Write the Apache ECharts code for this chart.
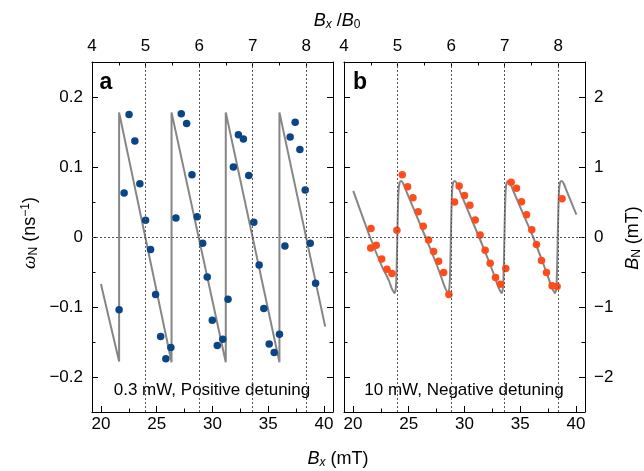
<!DOCTYPE html>
<html><head><meta charset="utf-8">
<script src="https://cdn.jsdelivr.net/npm/echarts@6/dist/echarts.min.js"></script>
<style>html,body{margin:0;padding:0;background:#fff}#c{width:644px;height:471px}</style>
</head><body><div id="c"></div>
<script>
// ---- axis ranges and tick labels ----
const bxRange = [19.2, 40.8];          // B_x (mT)
const ratioRange = [4, 8.5];           // B_x / B_0
const omegaRange = [-0.25, 0.25];      // omega_N (ns^-1)
const bnRange = [-2.5, 2.5];           // B_N (mT)
const bxTicks = [20, 25, 30, 35, 40];
const bxMinorTicks = [22.5, 27.5, 32.5, 37.5];
const ratioTicks = [4, 5, 6, 7, 8];
const ratioMinorTicks = [4.5, 5.5, 6.5, 7.5];
const omegaTicks = [-0.2, -0.1, 0, 0.1, 0.2];
const omegaMinorTicks = [-0.15, -0.05, 0.05, 0.15];
const bnTicks = [-2, -1, 0, 1, 2];
const bnMinorTicks = [-1.5, -0.5, 0.5, 1.5];
const ratioGuides = [5, 6, 7, 8];

// ---- panel a: 0.3 mW, positive detuning ----
const aBx = [21.63,22.08,22.52,23.04,23.49,24.0,24.45,24.9,25.35,25.82,26.27,26.72,27.2,27.68,28.16,28.63,29.12,29.53,29.98,30.43,30.92,31.39,31.87,32.32,32.77,33.25,33.7,34.18,34.6,35.08,35.53,36.0,36.49,36.96,37.41,37.83,38.31,38.76,39.24];
const aOmega = [-0.104,0.063,0.175,0.137,0.076,0.024,-0.018,-0.082,-0.142,-0.174,-0.158,0.027,0.176,0.162,0.089,0.029,-0.009,-0.057,-0.119,-0.155,-0.146,-0.089,0.100,0.146,0.140,0.088,0.021,-0.040,-0.102,-0.153,-0.165,-0.139,-0.013,0.143,0.164,0.125,0.067,-0.009,-0.066];
const aFitBx = [20.0,21.63,21.63,26.33,26.33,31.19,31.19,36.0,36.0,40.1];
const aFitOmega = [-0.067,-0.178,0.178,-0.179,0.178,-0.179,0.178,-0.179,0.178,-0.128];

// ---- panel b: 10 mW, negative detuning ----
const bBx = [21.62,21.59,22.09,22.58,23.05,23.5,23.94,24.42,24.9,25.38,25.85,26.3,26.78,27.23,27.68,28.13,28.6,29.11,29.52,30.0,30.48,30.96,31.4,31.85,32.3,32.78,33.23,33.7,34.18,34.66,35.11,35.56,36.03,36.45,36.9,37.35,37.85,38.3,38.74];
const bBn = [0.12,-0.157,-0.118,-0.313,-0.46,-0.52,0.095,0.889,0.718,0.561,0.362,0.152,-0.043,-0.208,-0.346,-0.507,-0.82,0.499,0.727,0.594,0.452,0.242,0.028,-0.19,-0.375,-0.58,-0.674,-0.45,0.783,0.698,0.504,0.319,0.105,-0.108,-0.336,-0.507,-0.698,-0.707,0.547];
const bFitBx = [20.03,21.53,22.6,23.22,23.47,23.72,23.82,23.89,23.94,23.99,24.04,24.1,24.19,24.32,24.52,24.82,
  26.5,27.52,28.02,28.27,28.52,28.62,28.69,28.74,28.79,28.84,28.9,28.99,29.12,29.32,29.62,
  31.3,32.32,32.82,33.07,33.32,33.42,33.49,33.54,33.59,33.64,33.7,33.79,33.92,34.12,34.42,
  36.15,37.1,37.6,37.85,38.1,38.2,38.27,38.32,38.37,38.42,38.48,38.57,38.7,38.9,39.2,40.03];
const bFitBn = [0.66,0.0,-0.42,-0.62,-0.73,-0.80,-0.76,-0.6,-0.3,0.1,0.45,0.68,0.78,0.80,0.76,0.64,
  0.0,-0.40,-0.62,-0.73,-0.80,-0.76,-0.6,-0.3,0.1,0.45,0.68,0.78,0.80,0.76,0.64,
  0.0,-0.40,-0.62,-0.73,-0.80,-0.76,-0.6,-0.3,0.1,0.45,0.68,0.78,0.80,0.76,0.64,
  0.0,-0.40,-0.62,-0.73,-0.80,-0.76,-0.6,-0.3,0.1,0.45,0.68,0.78,0.80,0.76,0.64,0.32];

const FONT = 'Liberation Sans, Arial, Helvetica, sans-serif';
const zip = (xs, ys) => xs.map((x, i) => [x, ys[i]]);
const fmt = v => String(v).replace('-', '\u2212');

function axisPair(gridIndex, position, range, major, minor, showLabels, margin) {
  const base = {
    type: 'value', gridIndex, position, min: range[0], max: range[1],
    splitLine: { show: false }, minorTick: { show: false }, minorSplitLine: { show: false }
  };
  return [
    Object.assign({}, base, {
      axisLine: { show: true, onZero: false, lineStyle: { color: '#000', width: 1 } },
      axisTick: { show: true, inside: true, length: 6, customValues: major, lineStyle: { color: '#000', width: 1 } },
      axisLabel: { show: showLabels, customValues: major, formatter: fmt, margin: margin,
        color: '#000', fontSize: 17, fontFamily: FONT }
    }),
    Object.assign({}, base, {
      axisLine: { show: false, onZero: false },
      axisTick: { show: true, inside: true, length: 3.5, customValues: minor, lineStyle: { color: '#000', width: 1 } },
      axisLabel: { show: false }
    })
  ];
}

const xAxes = [].concat(
  axisPair(0, 'bottom', bxRange, bxTicks, bxMinorTicks, true, 4),      // 0,1
  axisPair(0, 'top', ratioRange, ratioTicks, ratioMinorTicks, true, 7), // 2,3
  axisPair(1, 'bottom', bxRange, bxTicks, bxMinorTicks, true, 4),      // 4,5
  axisPair(1, 'top', ratioRange, ratioTicks, ratioMinorTicks, true, 7)  // 6,7
);
const yAxes = [].concat(
  axisPair(0, 'left', omegaRange, omegaTicks, omegaMinorTicks, true, 9),  // 0,1
  axisPair(0, 'right', omegaRange, omegaTicks, omegaMinorTicks, false, 9),// 2,3
  axisPair(1, 'left', omegaRange, omegaTicks, omegaMinorTicks, false, 9), // 4,5
  axisPair(1, 'right', bnRange, bnTicks, bnMinorTicks, true, 9)           // 6,7
);

const guideStyle = { type: [2, 2], color: '#555', width: 1 };
function guides(xIdx, yIdx) {
  return {
    type: 'line', xAxisIndex: xIdx, yAxisIndex: yIdx, data: [], z: 1, silent: true,
    markLine: { silent: true, symbol: ['none', 'none'], animation: false, label: { show: false },
      lineStyle: guideStyle,
      data: ratioGuides.map(v => ({ xAxis: v })).concat([{ yAxis: 0 }]) }
  };
}

const sub = { fontSize: 12, fontFamily: FONT, padding: [8, 0, 0, 0] };
const subI = { fontSize: 12, fontFamily: FONT, fontStyle: 'italic', padding: [8, 0, 0, 0] };
const sup = { fontSize: 12, fontFamily: FONT, padding: [0, 0, 8, 0] };
const ital = { fontSize: 18, fontFamily: FONT, fontStyle: 'italic' };
const rich = { i: ital, s: sub, si: subI, p: sup,
  w: { fontSize: 19, fontFamily: 'Liberation Serif, serif', fontStyle: 'italic' } };

function label(text, x, y, rot) {
  return { type: 'text', x, y, rotation: rot || 0, silent: true,
    style: { text, rich, font: '18px ' + FONT, fill: '#000', align: 'center', verticalAlign: 'middle' } };
}
function plain(text, x, y, font) {
  return { type: 'text', x, y, silent: true,
    style: { text, font, fill: '#000', align: 'center', verticalAlign: 'middle' } };
}

const chart = echarts.init(document.getElementById('c'), null, { renderer: 'canvas' });
chart.setOption({
  animation: false,
  backgroundColor: '#fff',
  grid: [
    { left: 92, top: 62, width: 241, height: 350 },
    { left: 344, top: 62, width: 241, height: 350 }
  ],
  xAxis: xAxes,
  yAxis: yAxes,
  series: [
    guides(2, 0),
    guides(6, 4),
    { type: 'line', xAxisIndex: 0, yAxisIndex: 0, data: zip(aFitBx, aFitOmega), showSymbol: false, z: 2,
      lineStyle: { color: '#868686', width: 2 } },
    { type: 'scatter', xAxisIndex: 0, yAxisIndex: 0, data: zip(aBx, aOmega), symbolSize: 7.5, z: 3,
      itemStyle: { color: '#0a4585', opacity: 1 } },
    { type: 'line', xAxisIndex: 4, yAxisIndex: 6, data: zip(bFitBx, bFitBn), showSymbol: false, z: 2,
      smooth: 0.2, lineStyle: { color: '#868686', width: 2 } },
    { type: 'scatter', xAxisIndex: 4, yAxisIndex: 6, data: zip(bBx, bBn), symbolSize: 7.5, z: 3,
      itemStyle: { color: '#ff4c1c', opacity: 1 } }
  ],
  graphic: [
    label('{i|B}{si|x} /{i|B}{s|0}', 337, 21),
    label('{i|B}{si|x} (mT)', 338, 459),
    label('{w|\u03c9}{s|N} (ns{p|\u22121})', 30, 233, Math.PI / 2),
    label('{i|B}{s|N} (mT)', 633, 238, Math.PI / 2),
    plain('a', 106, 83, 'bold 23px ' + FONT),
    plain('b', 360, 83, 'bold 23px ' + FONT),
    plain('0.3 mW, Positive detuning', 212, 390, '17px ' + FONT),
    plain('10 mW, Negative detuning', 464, 390, '17px ' + FONT)
  ]
});
</script></body></html>
